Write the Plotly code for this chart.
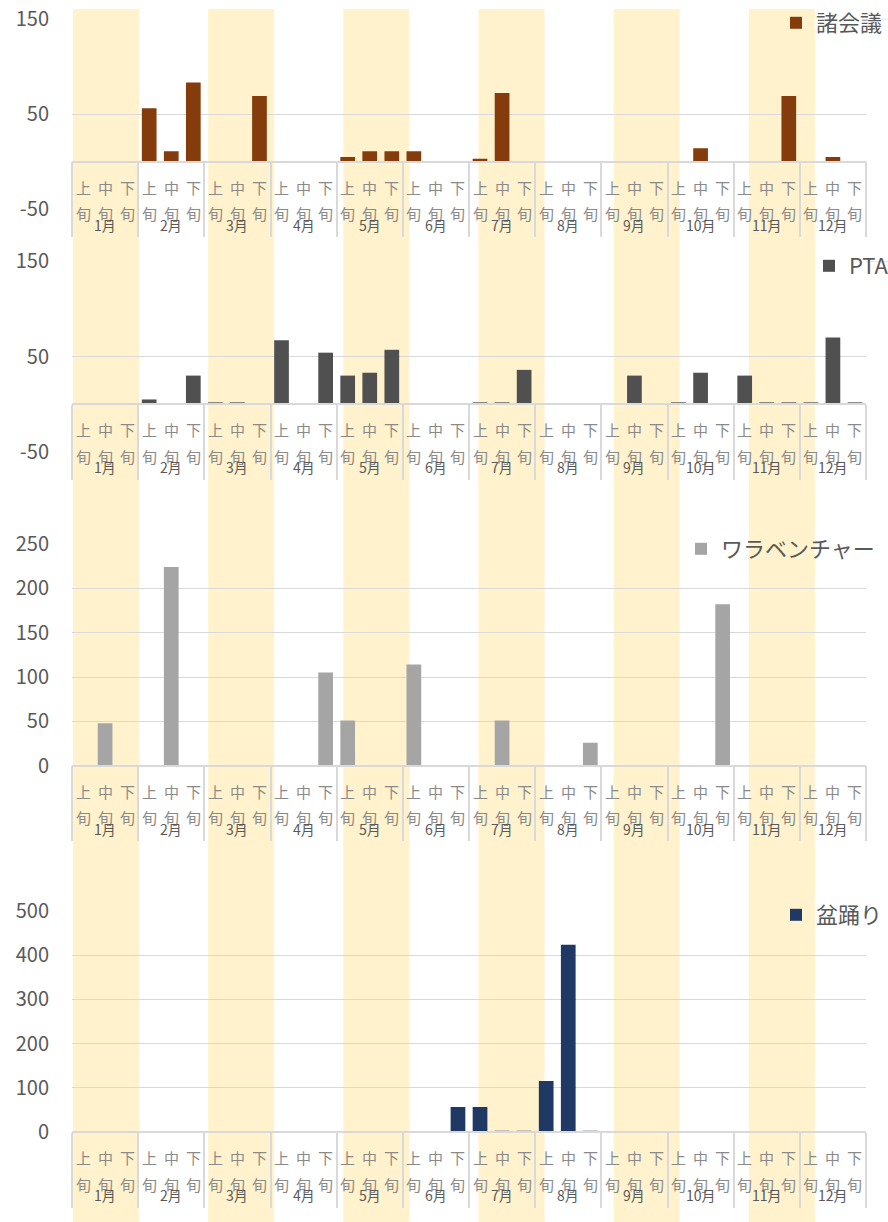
import plotly.graph_objects as go

# ---------------- data ----------------
months = [f"{m}月" for m in range(1, 13)]
periods = ["上", "中", "下"]
period_suffix = "旬"

kaigi = [0, 0, 0, 56, 11, 83, 0, 0, 69, 0, 0, 0, 5, 11, 11, 11, 0, 0,
         3, 72, 0, 0, 0, 0, 0, 0, 0, 0, 14, 0, 0, 0, 69, 0, 5, 0]
pta = [0, 0, 0, 5, 0, 30, 2, 2, 0, 67, 0, 54, 30, 33, 57, 0, 0, 0,
       2, 2, 36, 0, 0, 0, 0, 30, 0, 2, 33, 0, 30, 2, 2, 2, 70, 2]
warabe = [0, 48, 0, 0, 224, 0, 0, 0, 0, 0, 0, 105, 51, 0, 0, 114, 0, 0,
          0, 51, 0, 0, 0, 26, 0, 0, 0, 0, 0, 182, 0, 0, 0, 0, 0, 0]
bon = [0, 0, 0, 0, 0, 0, 0, 0, 0, 0, 0, 0, 0, 0, 0, 0, 0, 57,
       57, 3, 3, 116, 423, 3, 0, 0, 0, 0, 0, 0, 0, 0, 0, 0, 0, 0]

series_names = ["諸会議", "PTA", "ワラベンチャー", "盆踊り"]
series_values = [kaigi, pta, warabe, bon]
series_colors = ["#843C0C", "#505050", "#A5A5A5", "#203864"]
y_ranges = [[-50, 150], [-50, 150], [0, 250], [0, 500]]
y_ticks = [[-50, 50, 150], [-50, 50, 150], [0, 50, 100, 150, 200, 250],
           [0, 100, 200, 300, 400, 500]]
y_ticktext = [["-50", "50", "150"], ["-50", "50", "150"],
              ["0", "50", "100", "150", "200", "250"],
              ["0", "100", "200", "300", "400", "500"]]
highlight_months = [1, 3, 5, 7, 9, 11]

# ---------------- layout geometry (pixels) ----------------
W, H = 888, 1222
PLOT_L, PLOT_R = 72, 866
panel_px = [(18.7, 209.3), (261, 452), (544, 765.7), (910.7, 1132.3)]
legend_px = [(776, 23), (809, 266), (681, 549), (776, 915)]
extend_top_grid = [True, True, False, False]
BAND_L, BAND_R, BAND_TOP, BAND_BOT = 73, 884, 9, 1222
BAND_W = 66

GRID = "#D9D9D9"
TXT = "#595959"
LBL = "#8A8A8A"
FONT = "Noto Sans CJK JP"


def py(p):
    return 1 - p / H


def px(p):
    return p / W


n = len(months) * len(periods)
xs = list(range(n))

fig = go.Figure()
layout = dict(
    width=W, height=H, margin=dict(l=0, r=0, t=0, b=0, autoexpand=False),
    plot_bgcolor="rgba(0,0,0,0)", paper_bgcolor="white",
    font=dict(family=FONT, color=TXT),
    bargap=0.333, showlegend=True,
)
annotations = []
shapes = []

step = (BAND_R - BAND_L) / len(months)
for m in highlight_months:
    x0 = BAND_L + (m - 1) * step
    shapes.append(dict(type="rect", xref="paper", yref="paper",
                       x0=px(x0), x1=px(x0 + BAND_W),
                       y0=py(BAND_BOT), y1=py(BAND_TOP),
                       fillcolor="#FFF2CC", line=dict(width=0), layer="below"))

for i, (name, vals, col) in enumerate(zip(series_names, series_values, series_colors)):
    k = i + 1
    xa = "x" if k == 1 else f"x{k}"
    ya = "y" if k == 1 else f"y{k}"
    lg = "legend" if k == 1 else f"legend{k}"
    top, bot = panel_px[i]
    r0, r1 = y_ranges[i]
    zero_px = top + (r1 - 0) / (r1 - r0) * (bot - top)

    fig.add_trace(go.Bar(x=xs, y=vals, name=name, marker_color=col,
                         marker_line_width=0, xaxis=xa, yaxis=ya, legend=lg))

    layout["xaxis" if k == 1 else f"xaxis{k}"] = dict(
        domain=[px(PLOT_L), px(PLOT_R)], range=[-0.5, n - 0.5],
        anchor="free", position=py(zero_px),
        tickmode="array", tickvals=[j * 3 - 0.5 for j in range(len(months) + 1)],
        ticks="outside", ticklen=75, tickwidth=1.5, tickcolor=GRID,
        showticklabels=False, showgrid=False, zeroline=False,
        showline=True, linecolor=GRID, linewidth=1.5, fixedrange=True,
    )
    layout["yaxis" if k == 1 else f"yaxis{k}"] = dict(
        domain=[py(bot), py(top)], range=[r0, r1], anchor=xa,
        tickmode="array", tickvals=y_ticks[i], ticktext=y_ticktext[i],
        showgrid=True, gridcolor=GRID, gridwidth=1.3, zeroline=False,
        showline=False, ticks="", ticklabelstandoff=22, fixedrange=True,
        tickfont=dict(size=20, color=TXT, family=FONT),
    )
    layout[lg] = dict(
        x=px(legend_px[i][0]), y=py(legend_px[i][1]), xanchor="left", yanchor="middle",
        xref="container", yref="container", bgcolor="rgba(0,0,0,0)", borderwidth=0,
        font=dict(size=22, color=TXT, family=FONT),
    )

    if extend_top_grid[i]:
        shapes.append(dict(type="line", xref="paper", yref=ya,
                           x0=px(PLOT_R), x1=1, y0=r1, y1=r1,
                           line=dict(color=GRID, width=1.3), layer="below"))

    for j in range(n):
        annotations.append(dict(x=j, xref=xa, y=py(zero_px + 25.5), yref="paper",
                                text=periods[j % 3], showarrow=False,
                                xanchor="center", yanchor="middle",
                                font=dict(size=15, color=LBL, family=FONT)))
        annotations.append(dict(x=j, xref=xa, y=py(zero_px + 52), yref="paper",
                                text=period_suffix, showarrow=False,
                                xanchor="center", yanchor="middle",
                                font=dict(size=15, color=LBL, family=FONT)))
    for mi, mname in enumerate(months):
        annotations.append(dict(x=mi * 3 + 1, xref=xa, y=py(zero_px + 63), yref="paper",
                                text=mname, showarrow=False,
                                xanchor="center", yanchor="middle",
                                font=dict(size=14, color=TXT, family=FONT)))

layout["annotations"] = annotations
layout["shapes"] = shapes
fig.update_layout(**layout)

fig.write_html("out.html", config={"displayModeBar": False},
               post_script="document.body.style.margin='0';")
